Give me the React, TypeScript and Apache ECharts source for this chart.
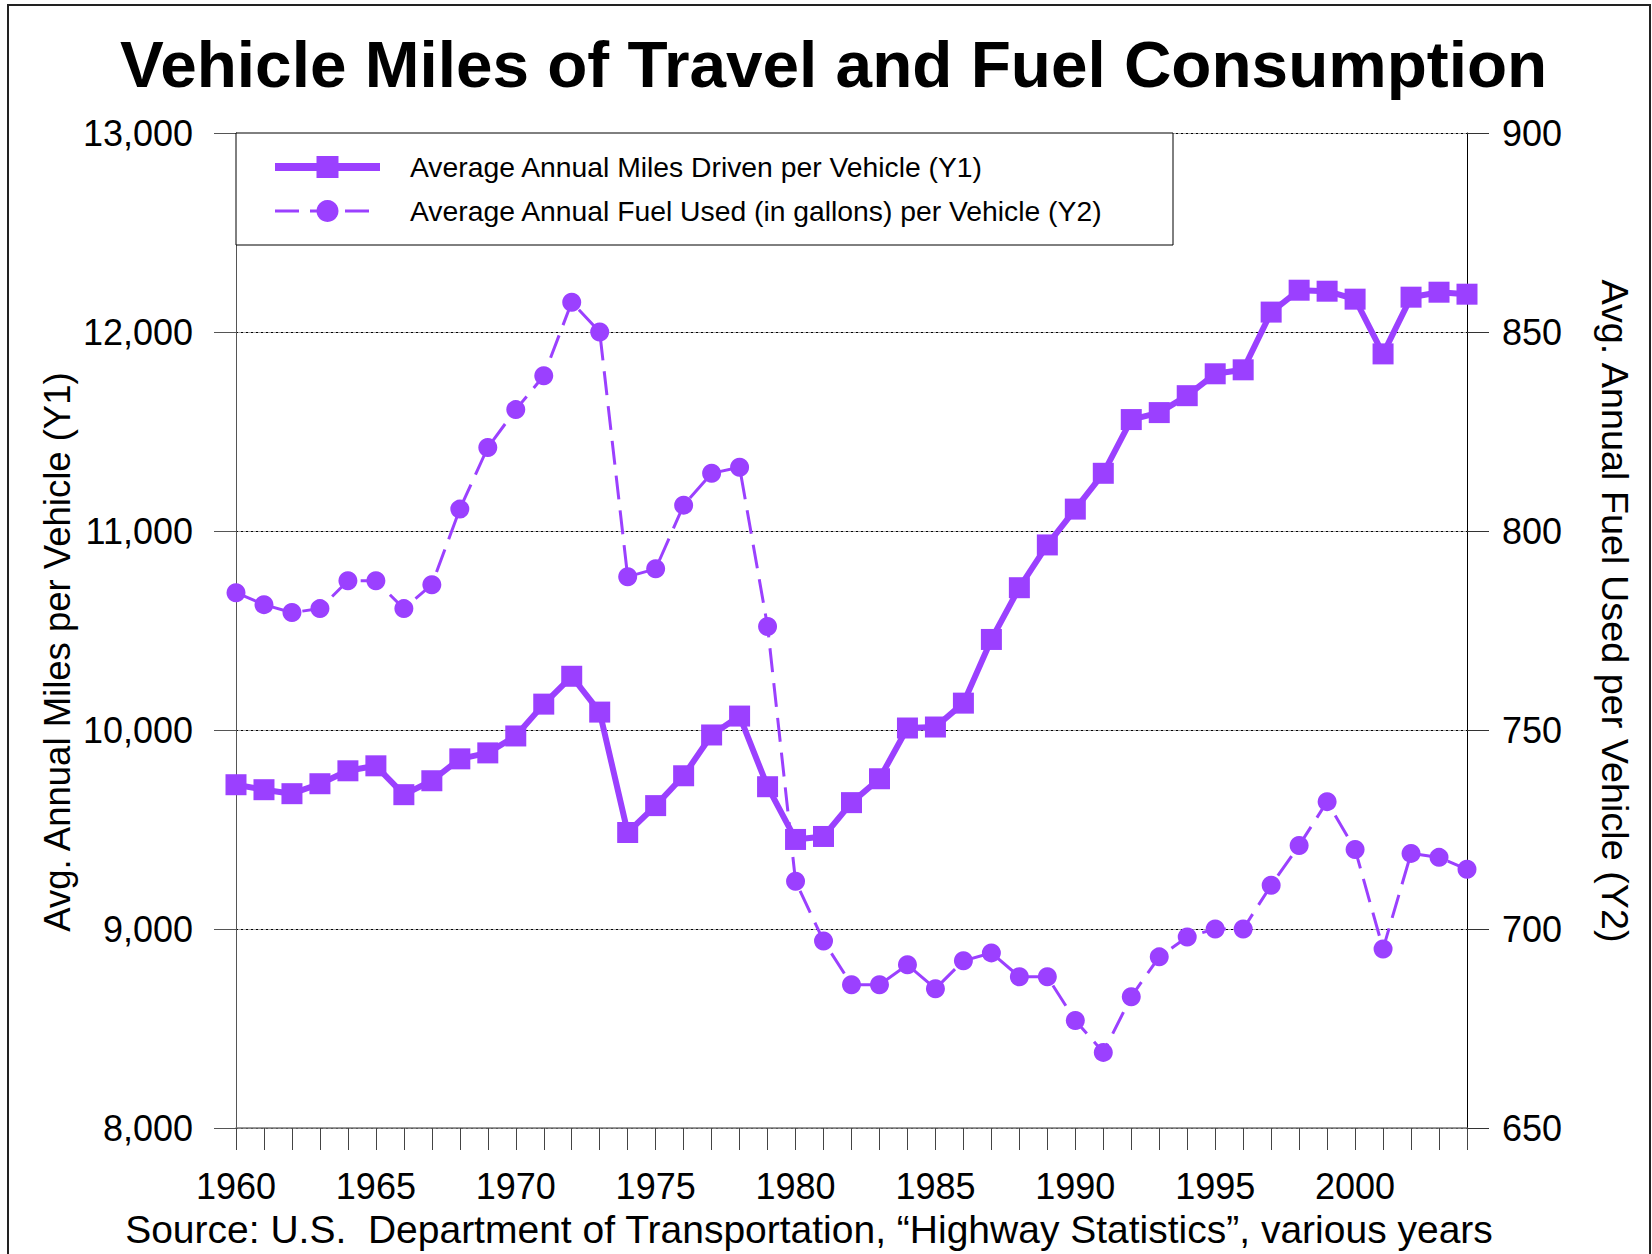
import React, { useEffect, useRef } from "react";
import * as echarts from "echarts";

const years = [
  "1960", "1961", "1962", "1963", "1964", "1965", "1966", "1967", "1968", "1969",
  "1970", "1971", "1972", "1973", "1974", "1975", "1976", "1977", "1978", "1979",
  "1980", "1981", "1982", "1983", "1984", "1985", "1986", "1987", "1988", "1989",
  "1990", "1991", "1992", "1993", "1994", "1995", "1996", "1997", "1998", "1999",
  "2000", "2001", "2002", "2003", "2004",
];

const milesPerVehicle = [
  9725, 9700, 9680, 9730, 9795, 9820, 9675, 9745, 9855, 9885,
  9970, 10130, 10270, 10090, 9485, 9620, 9770, 9975, 10070, 9715,
  9450, 9465, 9635, 9755, 10010, 10015, 10135, 10455, 10715, 10930,
  11110, 11290, 11560, 11595, 11680, 11790, 11810, 12100, 12210, 12205,
  12165, 11890, 12175, 12200, 12190,
];

const fuelPerVehicle = [
  784.5, 781.5, 779.5, 780.5, 787.5, 787.5, 780.5, 786.5, 805.5, 821,
  830.5, 839, 857.5, 850, 788.5, 790.5, 806.5, 814.5, 816, 776,
  712, 697, 686, 686, 691, 685, 692, 694, 688, 688,
  677, 669, 683, 693, 698, 700, 700, 711, 721, 732,
  720, 695, 719, 718, 715,
];

const y1Range = [8000, 13000];
const y1Step = 1000;
const y2Range = [650, 900];
const y2Step = 50;

const TITLE = "Vehicle Miles of Travel and Fuel Consumption";
const SERIES1 = "Average Annual Miles Driven per Vehicle (Y1)";
const SERIES2 = "Average Annual Fuel Used (in gallons) per Vehicle (Y2)";
const Y1_NAME = "Avg. Annual Miles per Vehicle (Y1)";
const Y2_NAME = "Avg. Annual Fuel Used per Vehicle (Y2)";
const SOURCE = "Source: U.S.  Department of Transportation, \u201cHighway Statistics\u201d, various years";

const PURPLE = "#9B40FF";
const FONT = "'Liberation Sans', Arial, Helvetica, sans-serif";

function textEl(text: string, x: number, y: number, size: number, rotation = 0, weight = "normal") {
  return {
    type: "text",
    x,
    y,
    rotation,
    z: 10,
    style: {
      text,
      fill: "#000",
      font: `${weight} ${size}px ${FONT}`,
      fontSize: size,
      fontFamily: FONT,
      fontWeight: weight,
      align: "center",
      verticalAlign: "middle",
      textAlign: "center",
      textVerticalAlign: "middle",
    },
  };
}

export default function App() {
  const ref = useRef<HTMLDivElement>(null);

  useEffect(() => {
    document.body.style.margin = "0";
    const chart = echarts.init(ref.current!, null, { renderer: "svg" });
    const option: any = {
      animation: false,
      backgroundColor: "#ffffff",
      title: {
        text: TITLE,
        left: 120,
        top: 31,
        padding: 0,
        textStyle: { fontFamily: FONT, fontSize: 65.7, fontWeight: "bold", color: "#000" },
      },
      grid: { left: 236, right: 185, top: 133, bottom: 126, containLabel: false },
      legend: {
        orient: "vertical",
        left: 271,
        top: 153,
        padding: 0,
        itemWidth: 105,
        itemHeight: 27.5,
        itemGap: 16,
        z: 10,
        textStyle: { fontFamily: FONT, fontSize: 28.3, color: "#000", padding: [0, 0, 0, 25] },
        data: [
          { name: SERIES1, lineStyle: { width: 8 } },
          { name: SERIES2, lineStyle: { width: 3 } },
        ],
      },
      xAxis: {
        type: "category",
        data: years,
        boundaryGap: false,
        axisLine: { show: true, lineStyle: { color: "#777", width: 1.5 } },
        axisTick: { show: true, interval: 0, length: 22, lineStyle: { color: "#444", width: 1 } },
        axisLabel: { interval: 4, margin: 40, fontSize: 36, fontFamily: FONT, color: "#000" },
        splitLine: { show: false },
      },
      yAxis: [
        {
          type: "value",
          position: "left",
          min: y1Range[0],
          max: y1Range[1],
          interval: y1Step,
          axisLine: { show: true, lineStyle: { color: "#555", width: 1 } },
          axisTick: { show: true, length: 22, lineStyle: { color: "#555" } },
          axisLabel: {
            margin: 43,
            fontSize: 36,
            fontFamily: FONT,
            color: "#000",
            formatter: (v: number) => v.toLocaleString("en-US"),
          },
          splitLine: { show: true, lineStyle: { color: "#a8a8a8", width: 1 } },
        },
        {
          type: "value",
          position: "right",
          min: y2Range[0],
          max: y2Range[1],
          interval: y2Step,
          axisLine: { show: true, lineStyle: { color: "#000", width: 1 } },
          axisTick: { show: true, length: 22, lineStyle: { color: "#333" } },
          axisLabel: { margin: 35, fontSize: 36, fontFamily: FONT, color: "#000" },
          splitLine: { show: true, lineStyle: { color: "#000", width: 1, type: [2, 3] } },
        },
      ],
      series: [
        {
          name: SERIES1,
          type: "line",
          yAxisIndex: 0,
          data: milesPerVehicle,
          symbol: "rect",
          symbolSize: 21,
          showAllSymbol: true,
          color: PURPLE,
          itemStyle: { color: PURPLE },
          lineStyle: { color: PURPLE, width: 6 },
          z: 3,
        },
        {
          name: SERIES2,
          type: "line",
          yAxisIndex: 1,
          data: fuelPerVehicle,
          symbol: "circle",
          symbolSize: 19,
          showAllSymbol: true,
          color: PURPLE,
          itemStyle: { color: PURPLE },
          lineStyle: { color: PURPLE, width: 3, type: [24, 11] },
          z: 2,
        },
      ],
      graphic: [
        {
          type: "rect",
          z: 3,
          shape: { x: 8, y: 5, width: 1642, height: 1290 },
          style: { fill: "none", stroke: "#222", lineWidth: 2 },
        },
        {
          type: "rect",
          z: 4,
          shape: { x: 236, y: 133, width: 937, height: 112 },
          style: { fill: "#fff", stroke: "#000", lineWidth: 1 },
        },
        textEl(Y1_NAME, 57, 652, 36.5, Math.PI / 2),
        textEl(Y2_NAME, 1615, 611, 37.8, -Math.PI / 2),
        textEl(SOURCE, 809, 1229, 39),
      ],
    };
    chart.setOption(option);
    return () => chart.dispose();
  }, []);

  return <div ref={ref} style={{ width: 1652, height: 1254 }} />;
}
